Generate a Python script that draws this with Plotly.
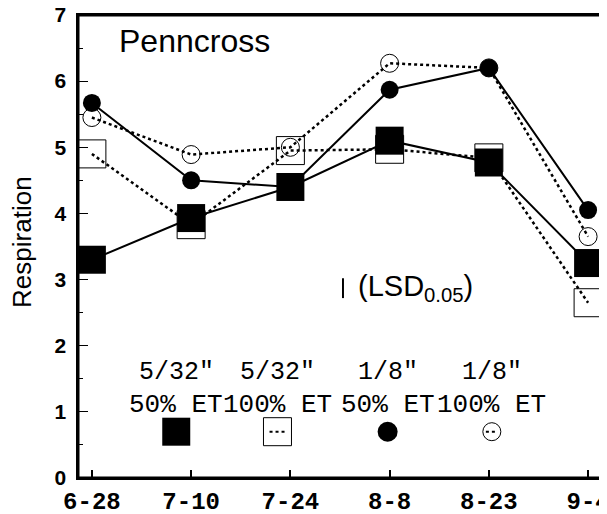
import plotly.graph_objects as go

# data
dates = ['6-28', '7-10', '7-24', '8-8', '8-23', '9-4']
sq_50 = [3.3, 3.93, 4.4, 5.1, 4.77, 3.25]      # 5/32" 50% ET
sq_100 = [4.9, 3.83, 4.95, 4.97, 4.84, 2.65]   # 5/32" 100% ET
ci_50 = [5.67, 4.5, 4.4, 5.87, 6.2, 4.05]      # 1/8" 50% ET
ci_100 = [5.45, 4.89, 5.0, 6.27, 6.2, 3.65]    # 1/8" 100% ET
lsd = 0.3

leg_top = ['5/32"', '5/32"', '1/8"', '1/8"']
leg_bot = ['50% ET', '100% ET', '50% ET', '100% ET']

xs = list(range(len(dates)))
mono = 'Courier New, Liberation Mono, monospace'
arial = 'Arial, Liberation Sans, sans-serif'

fig = go.Figure()

fig.add_trace(go.Scatter(x=xs, y=sq_100, mode='lines+markers',
                         line=dict(color='black', width=2.5, dash='dot'),
                         marker=dict(symbol='square-open', size=28, color='black',
                                     line=dict(width=1))))
fig.add_trace(go.Scatter(x=xs, y=ci_100, mode='lines+markers',
                         line=dict(color='black', width=2.5, dash='dot'),
                         marker=dict(symbol='circle-open', size=18, color='black',
                                     line=dict(width=1))))
fig.add_trace(go.Scatter(x=xs, y=ci_50, mode='lines+markers',
                         line=dict(color='black', width=2),
                         marker=dict(symbol='circle', size=18, color='black')))
fig.add_trace(go.Scatter(x=xs, y=sq_50, mode='lines+markers',
                         line=dict(color='black', width=2),
                         marker=dict(symbol='square', size=28, color='black')))

# LSD bar
lsd_x = 2.53
lsd_y = 2.87
fig.add_trace(go.Scatter(x=[lsd_x, lsd_x], y=[lsd_y - lsd / 2, lsd_y + lsd / 2],
                         mode='lines', line=dict(color='black', width=2)))
fig.add_annotation(x=lsd_x + 0.13, y=lsd_y, xanchor='left', yanchor='middle',
                   text='(LSD<sub>0.05</sub>)', showarrow=False,
                   font=dict(family=arial, size=29, color='black'))

fig.add_annotation(x=0.25, y=6.6, xanchor='left', yanchor='middle',
                   text='Penncross', showarrow=False,
                   font=dict(family=arial, size=32, color='black'))

# y axis title
fig.add_annotation(xref='paper', yref='paper', x=-0.107, y=0.51, textangle=-90,
                   text='Respiration', showarrow=False,
                   xanchor='center', yanchor='middle',
                   font=dict(family=arial, size=26, color='black'))

# legend drawn inside the plot
leg_x = [0.85, 1.87, 2.98, 4.03]
leg_y = 0.7
fig.add_trace(go.Scatter(x=[leg_x[0]], y=[leg_y], mode='markers',
                         marker=dict(symbol='square', size=28, color='black')))
fig.add_trace(go.Scatter(x=[leg_x[1] - 0.08, leg_x[1] + 0.08], y=[leg_y, leg_y], mode='lines',
                         line=dict(color='black', width=2, dash='dot')))
fig.add_trace(go.Scatter(x=[leg_x[1]], y=[leg_y], mode='markers',
                         marker=dict(symbol='square-open', size=28, color='black',
                                     line=dict(width=1))))
fig.add_trace(go.Scatter(x=[leg_x[2]], y=[leg_y], mode='markers',
                         marker=dict(symbol='circle', size=20, color='black')))
fig.add_trace(go.Scatter(x=[leg_x[3] - 0.06, leg_x[3] + 0.06], y=[leg_y, leg_y], mode='lines',
                         line=dict(color='black', width=2, dash='dot')))
fig.add_trace(go.Scatter(x=[leg_x[3]], y=[leg_y], mode='markers',
                         marker=dict(symbol='circle-open', size=18, color='black',
                                     line=dict(width=1))))

for i in range(4):
    fig.add_annotation(x=leg_x[i], y=1.6, text=leg_top[i], showarrow=False,
                       xanchor='center', yanchor='middle',
                       font=dict(family=mono, size=25, color='black'))
    fig.add_annotation(x=leg_x[i], y=1.1, text=leg_bot[i], showarrow=False,
                       xanchor='center', yanchor='middle',
                       font=dict(family=mono, size=26, color='black'))

# frame round the plot area
fig.add_shape(type='rect', xref='paper', yref='paper', x0=0, x1=1, y0=0, y1=1,
              line=dict(color='black', width=3), layer='above')

# margins allow for the 8px page margin round the figure
fig.update_layout(
    width=607,
    height=514,
    margin=dict(l=70, r=14, t=7, b=44),
    plot_bgcolor='white',
    paper_bgcolor='white',
    showlegend=False,
)

fig.update_xaxes(
    range=[-0.14, 5.13],
    tickvals=xs,
    ticktext=dates,
    ticks='inside',
    ticklen=8,
    tickwidth=1.5,
    tickcolor='black',
    showgrid=False,
    zeroline=False,
    showline=True,
    linecolor='black',
    linewidth=1.5,
    mirror=True,
    automargin=False,
    ticklabeloverflow='allow',
    tickfont=dict(family=mono, size=24, color='black', weight='bold'),
)

fig.update_yaxes(
    range=[0, 7],
    dtick=1,
    ticks='inside',
    ticklen=10,
    tickwidth=1,
    tickcolor='black',
    minor=dict(dtick=0.5, ticks='inside', ticklen=5, tickcolor='black'),
    showgrid=False,
    zeroline=False,
    showline=True,
    linecolor='black',
    linewidth=1.5,
    mirror=True,
    automargin=False,
    ticklabeloverflow='allow',
    ticksuffix=' ',
    tickfont=dict(family=arial, size=21, color='black', weight='bold'),
)

fig.write_html("out.html")
